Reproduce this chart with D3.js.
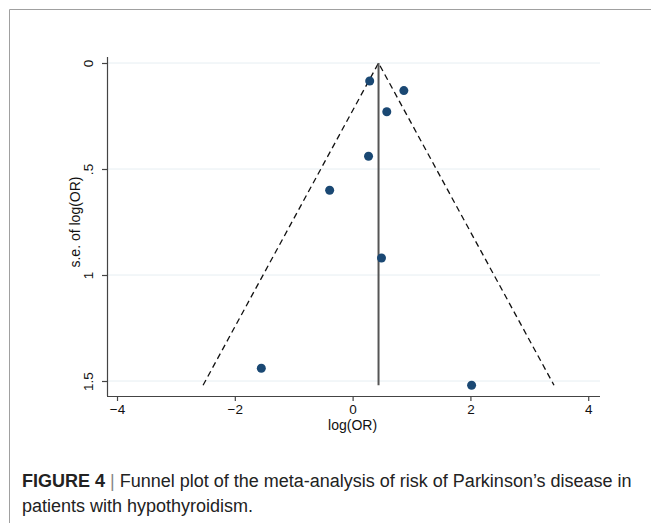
<!DOCTYPE html>
<html>
<head>
<meta charset="utf-8">
<script src="https://cdn.jsdelivr.net/npm/d3@7"></script>
<style>
  body { margin: 0; background: #fff; }
  svg { display: block; }
</style>
</head>
<body>
<div id="chart"></div>
<script>
// Study estimates
const logOR = [0.29, 0.87, 0.58, 0.27, -0.39, 0.49, -1.55, 2.02];
const seLogOR = [0.085, 0.13, 0.23, 0.44, 0.60, 0.92, 1.44, 1.52];
const pooled = 0.44; // fixed-effect estimate (apex of the funnel)
const xTicks = [-4, -2, 0, 2, 4];
const yTicks = [0, 0.5, 1, 1.5];
const yTickLabels = ["0", ".5", "1", "1.5"];

const W = 651, H = 523;
const svg = d3.select("#chart").append("svg")
    .attr("width", W)
    .attr("height", H);

// outer frame (only top and left edges visible)
svg.append("path")
    .attr("d", `M9.5,${H} V9.5 H${W}`)
    .attr("fill", "none")
    .attr("stroke", "#a0a0a0")
    .attr("stroke-width", 1);

const x = d3.scaleLinear().domain([-4.17, 4.2]).range([107, 600]);
const y = d3.scaleLinear().domain([0, 1.5]).range([63, 381]);
const yTop = 57, yBottom = 396;

// gridlines
svg.append("g").selectAll("line")
    .data(yTicks)
    .enter().append("line")
        .attr("x1", 107).attr("x2", 600)
        .attr("y1", d => y(d)).attr("y2", d => y(d))
        .attr("stroke", "#e6eef2")
        .attr("stroke-width", 1);

// axes
const xAxis = svg.append("g")
    .attr("transform", `translate(0,${yBottom})`)
    .call(d3.axisBottom(x).tickValues(xTicks).tickSize(5).tickSizeOuter(0).tickPadding(3));
xAxis.select(".domain").attr("d", `M107,0.5H600`);

const yAxis = svg.append("g")
    .attr("transform", `translate(107,0)`)
    .call(d3.axisLeft(y).tickValues(yTicks).tickFormat((d, i) => yTickLabels[i]).tickSize(5).tickSizeOuter(0));
yAxis.select(".domain").attr("d", `M0.5,${yTop}V${yBottom}`);

// rotated y tick labels, centred on each tick
yAxis.selectAll(".tick text")
    .attr("transform", "rotate(-90)")
    .attr("x", 0)
    .attr("y", -14)
    .attr("dy", 0)
    .attr("text-anchor", "middle");

svg.selectAll(".domain, .tick line")
    .attr("stroke", "#444")
    .attr("stroke-width", 1.2);
svg.selectAll(".tick text")
    .attr("font-family", "Liberation Sans, Arial, sans-serif")
    .attr("font-size", 13.5)
    .attr("fill", "#111");

// axis titles
svg.append("text")
    .attr("x", x(0))
    .attr("y", 430)
    .attr("text-anchor", "middle")
    .attr("font-family", "Liberation Sans, Arial, sans-serif")
    .attr("font-size", 14)
    .attr("fill", "#111")
    .text("log(OR)");

svg.append("text")
    .attr("transform", `translate(80,${(y(0) + y(1.5)) / 2}) rotate(-90)`)
    .attr("text-anchor", "middle")
    .attr("font-family", "Liberation Sans, Arial, sans-serif")
    .attr("font-size", 14)
    .attr("fill", "#111")
    .text("s.e. of log(OR)");

// funnel limits
const seMax = d3.max(seLogOR);
svg.append("path")
    .attr("d", `M${x(pooled - 1.96 * seMax)},${y(seMax)} L${x(pooled)},${y(0)} L${x(pooled + 1.96 * seMax)},${y(seMax)}`)
    .attr("fill", "none")
    .attr("stroke", "#111")
    .attr("stroke-width", 1.3)
    .attr("stroke-dasharray", "6,4");

svg.append("line")
    .attr("x1", x(pooled)).attr("x2", x(pooled))
    .attr("y1", y(0)).attr("y2", y(seMax))
    .attr("stroke", "#555")
    .attr("stroke-width", 2);

// studies
svg.append("g").selectAll("circle")
    .data(logOR)
    .enter().append("circle")
        .attr("cx", d => x(d))
        .attr("cy", (d, i) => y(seLogOR[i]))
        .attr("r", 4.5)
        .attr("fill", "#1a4873");

// caption
const caption = svg.append("text")
    .attr("font-family", "Liberation Sans, Arial, sans-serif")
    .attr("font-size", 18)
    .attr("fill", "#222");
caption.append("tspan")
    .attr("x", 22).attr("y", 487)
    .attr("font-weight", "bold")
    .text("FIGURE 4");
caption.append("tspan")
    .attr("fill", "#888")
    .text(" | ");
caption.append("tspan")
    .text("Funnel plot of the meta-analysis of risk of Parkinson\u2019s disease in");
svg.append("text")
    .attr("x", 22).attr("y", 512)
    .attr("font-family", "Liberation Sans, Arial, sans-serif")
    .attr("font-size", 18)
    .attr("fill", "#222")
    .text("patients with hypothyroidism.");
</script>
</body>
</html>
